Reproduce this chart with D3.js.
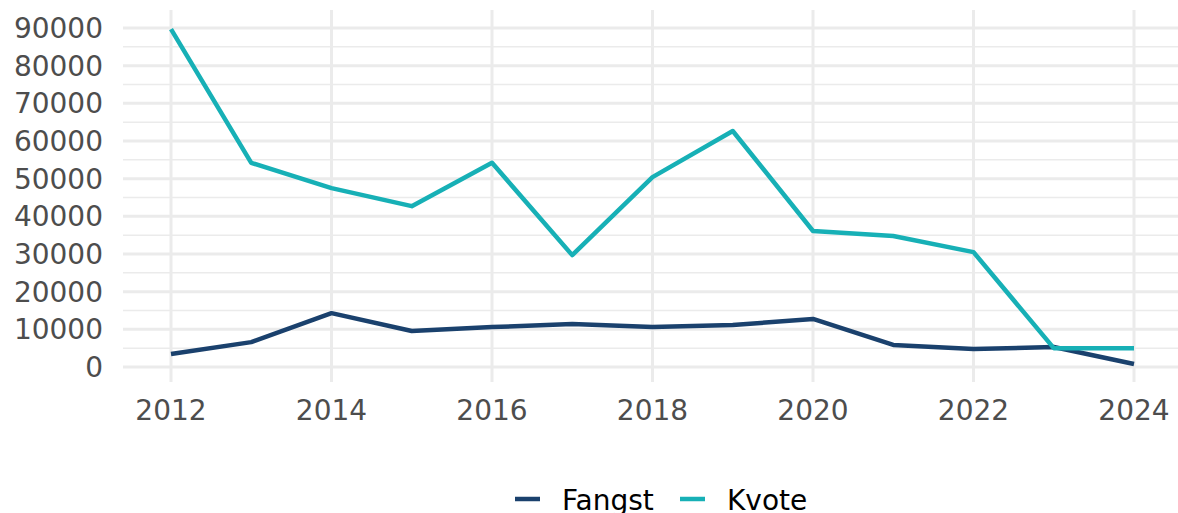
<!DOCTYPE html>
<html>
<head>
<meta charset="utf-8">
<script src="https://cdn.jsdelivr.net/npm/d3@7"></script>
<style>
  body { margin: 0; background: #fff; }
  text { font-family: "DejaVu Sans", sans-serif; }
</style>
</head>
<body>
<svg id="chart" width="1178" height="513"></svg>
<script>
const years = [2012, 2013, 2014, 2015, 2016, 2017, 2018, 2019, 2020, 2021, 2022, 2023, 2024];
const fangst = [3450, 6600, 14300, 9550, 10600, 11400, 10600, 11150, 12750, 5850, 4800, 5300, 800];
const kvote = [89700, 54200, 47500, 42700, 54200, 29700, 50400, 62650, 36100, 34800, 30500, 5000, 5000];
const yTicks = [0, 10000, 20000, 30000, 40000, 50000, 60000, 70000, 80000, 90000];
const yMinor = [5000, 15000, 25000, 35000, 45000, 55000, 65000, 75000, 85000];
const xTicks = [2012, 2014, 2016, 2018, 2020, 2022, 2024];
const seriesNames = ["Fangst", "Kvote"];
const colors = ["#1a416d", "#17b0b6"];

const svg = d3.select("#chart");
const panel = { left: 123, right: 1178, top: 10, bottom: 382 };

const x = d3.scaleLinear().domain([2012, 2024]).range([171, 1134]);
const y = d3.scaleLinear().domain([0, 90000]).range([367, 28]);

// grid
svg.append("g").selectAll("line").data(yMinor).join("line")
  .attr("x1", panel.left).attr("x2", panel.right)
  .attr("y1", d => y(d)).attr("y2", d => y(d))
  .attr("stroke", "#ebebeb").attr("stroke-width", 1.5);
svg.append("g").selectAll("line").data(yTicks).join("line")
  .attr("x1", panel.left).attr("x2", panel.right)
  .attr("y1", d => y(d)).attr("y2", d => y(d))
  .attr("stroke", "#ebebeb").attr("stroke-width", 3);
svg.append("g").selectAll("line").data(xTicks).join("line")
  .attr("x1", d => x(d)).attr("x2", d => x(d))
  .attr("y1", panel.top).attr("y2", panel.bottom)
  .attr("stroke", "#ebebeb").attr("stroke-width", 3);

// axis labels
svg.append("g").selectAll("text").data(yTicks).join("text")
  .attr("x", 103).attr("y", d => y(d))
  .attr("dy", "0.36em")
  .attr("text-anchor", "end")
  .attr("font-size", 28)
  .attr("fill", "#4d4d4d")
  .text(d => d);
svg.append("g").selectAll("text").data(xTicks).join("text")
  .attr("x", d => x(d)).attr("y", 420)
  .attr("text-anchor", "middle")
  .attr("font-size", 28)
  .attr("fill", "#4d4d4d")
  .text(d => d);

// lines
const line = d3.line().x((d, i) => x(years[i])).y(d => y(d));
[fangst, kvote].forEach((s, i) => {
  svg.append("path")
    .datum(s)
    .attr("fill", "none")
    .attr("stroke", colors[i])
    .attr("stroke-width", 4.5)
    .attr("stroke-linejoin", "round")
    .attr("d", line);
});

// legend
const legX = [515, 680];
const lg = svg.append("g");
seriesNames.forEach((n, i) => {
  lg.append("line")
    .attr("x1", legX[i]).attr("x2", legX[i] + 25)
    .attr("y1", 499).attr("y2", 499)
    .attr("stroke", colors[i]).attr("stroke-width", 4.5);
  lg.append("text")
    .attr("x", legX[i] + 47).attr("y", 510)
    .attr("font-size", 28)
    .attr("fill", "#000")
    .text(n);
});
</script>
</body>
</html>
